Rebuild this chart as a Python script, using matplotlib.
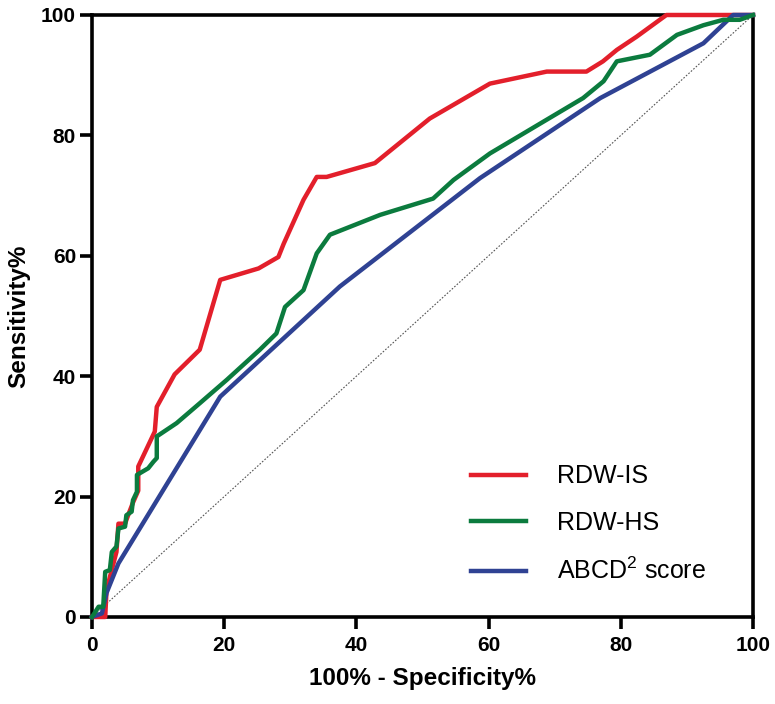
import matplotlib.pyplot as plt

plt.rcParams['font.family'] = ['Liberation Sans', 'DejaVu Sans']
plt.rcParams['mathtext.fontset'] = 'custom'
plt.rcParams['mathtext.rm'] = 'Liberation Sans'
plt.rcParams['mathtext.it'] = 'Liberation Sans'

# ROC curves (x = 100% - Specificity%, y = Sensitivity%)
rdw_is_x = [0, 2, 2.2, 3.7, 4, 5, 5.5, 6.2, 7, 7, 9.5, 9.8, 12.5, 16.3, 19.4, 25.2,
            28.2, 29, 32, 34, 35.5, 42.8, 51.1, 60.2, 68.8, 74.8, 77.3, 79.4, 82.4, 86.9, 100]
rdw_is_y = [0, 0, 4.5, 10.8, 15.5, 15.5, 17, 19, 21, 25, 30.8, 34.9, 40.3, 44.4, 56, 57.9,
            59.8, 62, 69.3, 73.1, 73.1, 75.4, 82.8, 88.6, 90.6, 90.6, 92.3, 94.2, 96.4, 100, 100]

rdw_hs_x = [0, 1, 1.7, 2, 2.7, 3, 3.7, 4, 5, 5.2, 6, 6.2, 6.8, 6.8, 8.5, 9.3, 9.8, 9.8,
            12.8, 16.3, 20.4, 25.4, 27.9, 29.2, 32, 34, 36, 43.6, 51.6, 54.7, 60.2, 74.3,
            77.4, 79.4, 84.4, 88.5, 92.5, 95.5, 98, 100]
rdw_hs_y = [0, 1.7, 1.7, 7.5, 7.8, 10.8, 11.7, 14.7, 15, 16.9, 17.5, 19.4, 20.8, 23.6, 24.7,
            25.8, 26.4, 30, 32.2, 35.5, 39.4, 44.4, 47.1, 51.5, 54.3, 60.4, 63.5, 66.8, 69.5,
            72.6, 77, 86.2, 89, 92.3, 93.4, 96.7, 98.3, 99.2, 99.2, 100]

abcd2_x = [0, 1.5, 2.2, 4, 19.4, 37.5, 58.7, 76.9, 92.5, 97, 100]
abcd2_y = [0, 0.6, 4, 8.9, 36.6, 54.9, 72.9, 86.2, 95.3, 100, 100]

ticks = [0, 20, 40, 60, 80, 100]

fig = plt.figure(figsize=(7.75, 7.04), dpi=100)
ax = fig.add_axes([0.1187, 0.1236, 0.8529, 0.8551])

ax.plot([0, 100], [0, 100], color='#555555', linestyle=(0, (1.5, 1.5)), linewidth=0.8, zorder=2)
l_is, = ax.plot(rdw_is_x, rdw_is_y, color='#E31F2B', linewidth=3.2, label='RDW-IS',
                clip_on=False, zorder=4)
l_ab, = ax.plot(abcd2_x, abcd2_y, color='#2F4293', linewidth=3.2, label='ABCD$^2$ score',
                clip_on=False, zorder=5)
l_hs, = ax.plot(rdw_hs_x, rdw_hs_y, color='#0B7B3E', linewidth=3.2, label='RDW-HS',
                clip_on=False, zorder=6)

ax.set_xlim(0, 100)
ax.set_ylim(0, 100)
ax.set_xticks(ticks)
ax.set_yticks(ticks)
for s in ax.spines.values():
    s.set_linewidth(2.6)
ax.tick_params(width=2.6, length=8.5, labelsize=15)
ax.tick_params(axis='x', pad=5)
ax.tick_params(axis='y', pad=3)
for lab in ax.get_xticklabels() + ax.get_yticklabels():
    lab.set_fontweight('bold')

ax.set_xlabel('100% - Specificity%', fontsize=17.5, fontweight='bold', labelpad=9)
ax.set_ylabel('Sensitivity%', fontsize=17.5, fontweight='bold', labelpad=8)

ax.legend(handles=[l_is, l_hs, l_ab], loc='lower left', bbox_to_anchor=(0.539, 0.017),
          frameon=False, fontsize=18, handlelength=2.2, handletextpad=1.25,
          labelspacing=0.91)

fig.savefig('out.png', dpi=100)
